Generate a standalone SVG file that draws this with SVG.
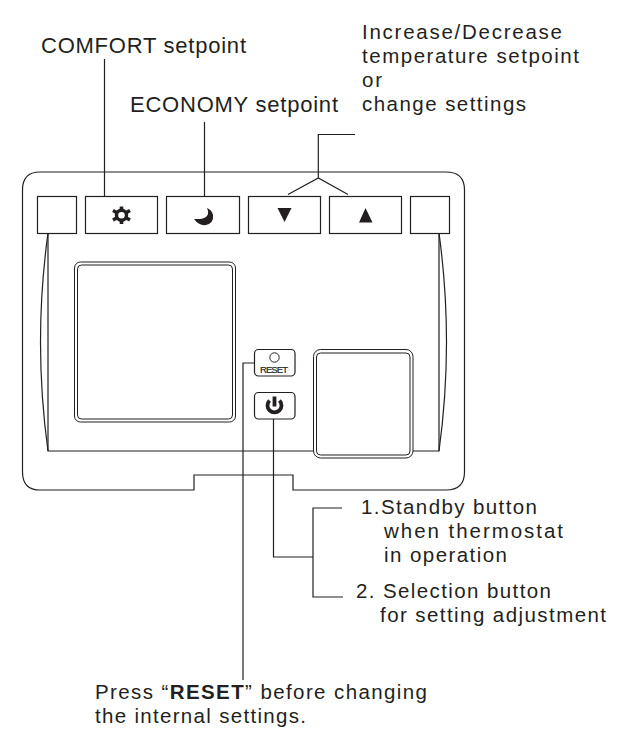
<svg xmlns="http://www.w3.org/2000/svg" width="626" height="744" viewBox="0 0 626 744">
<style>
.l{fill:none;stroke:#231f20;stroke-width:1.2}
.b{fill:#fff;stroke:#231f20;stroke-width:1.2}
.d{fill:#fff;stroke:#231f20;stroke-width:1}
.k{fill:#231f20;stroke:none}
text{font-family:"Liberation Sans",Arial,sans-serif;font-size:20.500px;fill:#231f20}
.t{font-size:22px}
</style>
<rect width="626" height="744" fill="#fff"/>
<g id="housing">
<path class="l" d="M40 172H446Q464.500 172 464.500 190V472Q464.500 490 446 490H293V475H194V490H40Q22.500 490 22.500 472V190Q22.500 172 40 172Z"/>
<path class="l" d="M48 233V451H313M413 451H439V233"/>
<path class="l" d="M48 233Q33 342 48 451M439 233Q454 342 439 451"/>
</g>
<g id="connectors">
<path class="l" d="M104.500 59V196M204.500 122V196"/>
<path class="l" d="M355 134.500H318.300V178M288 194.500L318.300 178L348 194.500"/>
<path class="l" d="M254 363H243V680"/>
<path class="l" d="M273.500 419V557H313M342 508H313V597H343"/>
</g>
<g id="btn-left"><rect class="b" x="37.500" y="196.500" width="39" height="37"/></g>
<g id="btn-comfort"><rect class="b" x="85.500" y="196.500" width="72" height="37"/>
<path d="M121.500 206.500V224M113 210.500L130 220M113 220L130 210.500" stroke="#231f20" stroke-width="3.600" fill="none"/>
<circle cx="121.500" cy="215.200" r="5" fill="#fff" stroke="#231f20" stroke-width="3.400"/></g>
<g id="btn-economy"><rect class="b" x="166.500" y="196.500" width="73" height="37"/>
<path class="k" d="M207 208Q212 220 194 219Q199 226 206 225Q214 223 213 215Q212 210 207 208Z"/></g>
<g id="btn-down"><rect class="b" x="248.500" y="196.500" width="72" height="37"/>
<path class="k" d="M277.500 208H291.500L284.500 222Z"/></g>
<g id="btn-up"><rect class="b" x="329.500" y="196.500" width="72" height="37"/>
<path class="k" d="M359 222.500H372.500L365.500 208Z"/></g>
<g id="btn-right"><rect class="b" x="410.500" y="196.500" width="39" height="37"/></g>
<g id="display-left">
<rect class="d" x="74.500" y="262" width="161" height="160" rx="6"/>
<rect class="d" x="77.500" y="265" width="155" height="154" rx="4"/></g>
<g id="display-right">
<rect class="d" x="313.500" y="349.500" width="99.500" height="108.500" rx="7"/>
<rect class="d" x="316.500" y="353" width="93.500" height="102" rx="4"/></g>
<g id="btn-reset"><rect class="b" x="254.500" y="349.500" width="40.500" height="26.500" rx="4"/>
<circle cx="274.500" cy="357.500" r="4.700" fill="none" stroke="#231f20" stroke-width="1"/>
<text x="260" y="373" style="font-size:9.500px;stroke:#231f20;stroke-width:.2" textLength="28">RESET</text></g>
<g id="btn-power"><rect class="b" x="254.500" y="392.500" width="40.500" height="26.500" rx="4"/>
<path d="M269.500 400.500A7 7 0 1 0 279.500 400.500" fill="none" stroke="#231f20" stroke-width="3.800"/>
<path d="M274.500 396.500V406.500" stroke="#231f20" stroke-width="3.800"/></g>
<g id="labels">
<text class="t" x="41" y="52.500" textLength="205">COMFORT setpoint</text>
<text class="t" x="130" y="112" textLength="208">ECONOMY setpoint</text>
<text x="362" y="39" textLength="200">Increase/Decrease</text>
<text x="362" y="63" textLength="217">temperature setpoint</text>
<text x="362" y="87" textLength="20">or</text>
<text x="362" y="111" textLength="164">change settings</text>
<text x="361" y="514" textLength="176">1.Standby button</text>
<text x="384" y="538" textLength="179">when  thermostat</text>
<text x="384" y="562" textLength="123">in operation</text>
<text x="356" y="598" textLength="195">2. Selection button</text>
<text x="380" y="622" textLength="226">for setting adjustment</text>
<text x="95" y="699" textLength="332">Press “<tspan font-weight="bold">RESET</tspan>” before changing</text>
<text x="95" y="723" textLength="211">the internal settings.</text>
</g>
</svg>
